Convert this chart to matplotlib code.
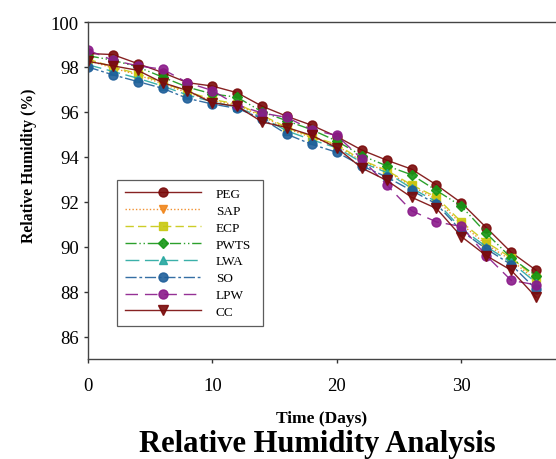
import matplotlib
matplotlib.use("Agg")
import matplotlib.pyplot as plt

days = [0, 2, 4, 6, 8, 10, 12, 14, 16, 18, 20, 22, 24, 26, 28, 30, 32, 34, 36]

peg  = [98.6, 98.55, 98.15, 97.75, 97.3, 97.15, 96.85, 96.25, 95.8, 95.4, 94.9, 94.3, 93.85, 93.45, 92.75, 91.95, 90.85, 89.75, 88.95]
sap  = [98.3, 97.95, 97.65, 97.25, 96.85, 96.5, 96.3, 95.8, 95.25, 94.85, 94.5, 93.8, 93.35, 92.7, 92.1, 91.0, 90.1, 89.4, 88.5]
ecp  = [98.35, 98.0, 97.7, 97.3, 96.9, 96.55, 96.35, 95.85, 95.3, 94.9, 94.55, 93.85, 93.4, 92.75, 92.2, 91.1, 90.2, 89.5, 88.6]
pwts = [98.5, 98.3, 98.0, 97.55, 97.1, 96.8, 96.65, 96.0, 95.6, 95.2, 94.7, 94.05, 93.6, 93.2, 92.5, 91.8, 90.6, 89.5, 88.7]
lwa  = [98.1, 97.8, 97.5, 97.15, 96.75, 96.45, 96.2, 95.75, 95.15, 94.75, 94.4, 93.75, 93.3, 92.6, 92.0, 90.8, 90.0, 89.3, 88.4]
so   = [98.0, 97.65, 97.35, 97.05, 96.6, 96.35, 96.15, 95.7, 95.0, 94.55, 94.2, 93.6, 93.1, 92.5, 91.9, 90.7, 89.9, 89.2, 88.1]
lpw  = [98.75, 98.3, 98.05, 97.9, 97.3, 96.95, 96.3, 95.95, 95.75, 95.2, 94.95, 93.9, 92.75, 91.6, 91.1, 90.9, 89.6, 88.5, 88.3]
cc   = [98.25, 98.05, 97.85, 97.3, 96.95, 96.4, 96.25, 95.55, 95.3, 94.95, 94.4, 93.5, 92.95, 92.2, 91.7, 90.45, 89.6, 88.95, 87.75]

labels = ["PEG", "SAP", "ECP", "PWTS", "LWA", "SO", "LPW", "CC"]
series = [peg, sap, ecp, pwts, lwa, so, lpw, cc]
colors = ["#7a0a0a", "#f0861c", "#c8c810", "#159615", "#26a8a0", "#1f5f9a", "#8a1a8a", "#7a0a0a"]
markers = ["o", "v", "s", "D", "^", "o", "o", "v"]
styles = ["-", (0, (1, 1.5)), (0, (6, 3)), (0, (8, 2, 1, 2, 1, 2)), (0, (10, 4)), (0, (8, 2, 2, 2)), (0, (9, 5)), "-"]
msizes = [6.5, 6, 5.5, 5.5, 6, 6.5, 6.5, 6.5]

plt.rcParams['font.family'] = ['Liberation Serif', 'DejaVu Serif']

fig = plt.figure(figsize=(5.56, 4.6), dpi=100)
ax = fig.add_axes([0.158, 0.2174, 0.842, 0.7326])

for y, lab, c, m, ls, ms in zip(series, labels, colors, markers, styles, msizes):
    ax.plot(days, y, color=c, marker=m, linestyle=ls, linewidth=1.0, markersize=ms,
            markeredgecolor=c, markerfacecolor=c, label=lab, alpha=0.9)

ax.set_xlim(0, 37.6)
ax.set_ylim(85, 100)
ax.set_xticks([0, 10, 20, 30])
ax.set_yticks([86, 88, 90, 92, 94, 96, 98, 100])
ax.tick_params(axis='both', direction='out', length=3, width=1, labelsize=13.5, colors='#333333', labelcolor='black')
ax.tick_params(axis='x', pad=10)
ax.spines['right'].set_visible(False)
for s in ['left', 'top', 'bottom']:
    ax.spines[s].set_color('#444444')
    ax.spines[s].set_linewidth(1.0)

ax.set_ylabel("Relative Humidity (%)", fontsize=11.3, fontweight='bold')
ax.yaxis.set_label_coords(-0.108, 0.576)
ax.set_xlabel("Time (Days)", fontsize=12.5, fontweight='bold')
ax.xaxis.set_label_coords(0.5, -0.15)

leg = ax.legend(loc='lower left', bbox_to_anchor=(0.062, 0.098, 0.312, 0.451), mode='expand',
                fontsize=9.5, frameon=True, fancybox=False, handlelength=5.8,
                handletextpad=1.1, borderpad=0.6, labelspacing=0.35, borderaxespad=0)
leg.get_frame().set_edgecolor('#333333')
leg.get_frame().set_linewidth(0.9)

fig.text(0.57, 7.5 / 460, "Relative Humidity Analysis", ha='center', va='baseline',
         fontsize=22, fontweight='bold')

fig.savefig("out.png", dpi=100)
